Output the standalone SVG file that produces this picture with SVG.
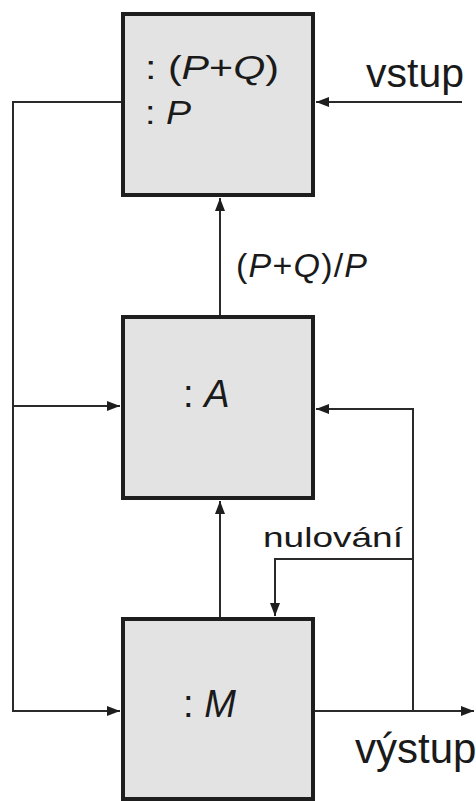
<svg xmlns="http://www.w3.org/2000/svg" width="476" height="801" viewBox="0 0 476 801">
<style>
.box{fill:#e3e3e3;stroke:#1e1e1e;stroke-width:4}
.ln{fill:none;stroke:#2a2a2a;stroke-width:2}
.t{font-family:"Liberation Sans",Arial,sans-serif;fill:#1a1a1a}
.i{font-style:italic}
</style>
<defs>
<marker id="ah" markerUnits="userSpaceOnUse" markerWidth="14" markerHeight="12" viewBox="0 0 14 12" refX="13" refY="6" orient="auto">
<path d="M0,1 L13,6 L0,11 Z" fill="#1e1e1e"/>
</marker>
</defs>
<rect width="476" height="801" fill="#fff"/>
<g id="connectors">
<path class="ln" d="M121,102 H13 V711 H120" marker-end="url(#ah)"/>
<path class="ln" d="M13,406 H120" marker-end="url(#ah)"/>
<path class="ln" d="M462,102 H316" marker-end="url(#ah)"/>
<path class="ln" d="M220,315 V198" marker-end="url(#ah)"/>
<path class="ln" d="M220,617 V501" marker-end="url(#ah)"/>
<path class="ln" d="M315,711 H474" marker-end="url(#ah)"/>
<path class="ln" d="M413,711 V409 H316" marker-end="url(#ah)"/>
<path class="ln" d="M413,559 H275 V616" marker-end="url(#ah)"/>
</g>
<g id="nodeTop">
<rect class="box" x="123" y="14" width="190" height="181"/>
<text class="t" x="145" y="79" font-size="34" textLength="134" lengthAdjust="spacingAndGlyphs">: (<tspan class="i">P</tspan>+<tspan class="i">Q</tspan>)</text>
<text class="t" x="145" y="124" font-size="34" textLength="46" lengthAdjust="spacingAndGlyphs">: <tspan class="i">P</tspan></text>
</g>
<g id="nodeA">
<rect class="box" x="123" y="317" width="190" height="181"/>
<text class="t" x="183" y="407" font-size="38">: <tspan class="i">A</tspan></text>
</g>
<g id="nodeM">
<rect class="box" x="123" y="619" width="190" height="180"/>
<text class="t" x="183" y="717" font-size="38">: <tspan class="i">M</tspan></text>
</g>
<g id="labels">
<text class="t" x="366" y="87" font-size="41">vstup</text>
<text class="t" x="236" y="277" font-size="34" textLength="131">(<tspan class="i">P</tspan>+<tspan class="i">Q</tspan>)/<tspan class="i">P</tspan></text>
<text class="t" x="263" y="547" font-size="28" textLength="140" lengthAdjust="spacingAndGlyphs">nulování</text>
<text class="t" x="355" y="763" font-size="42">výstup</text>
</g>
</svg>
